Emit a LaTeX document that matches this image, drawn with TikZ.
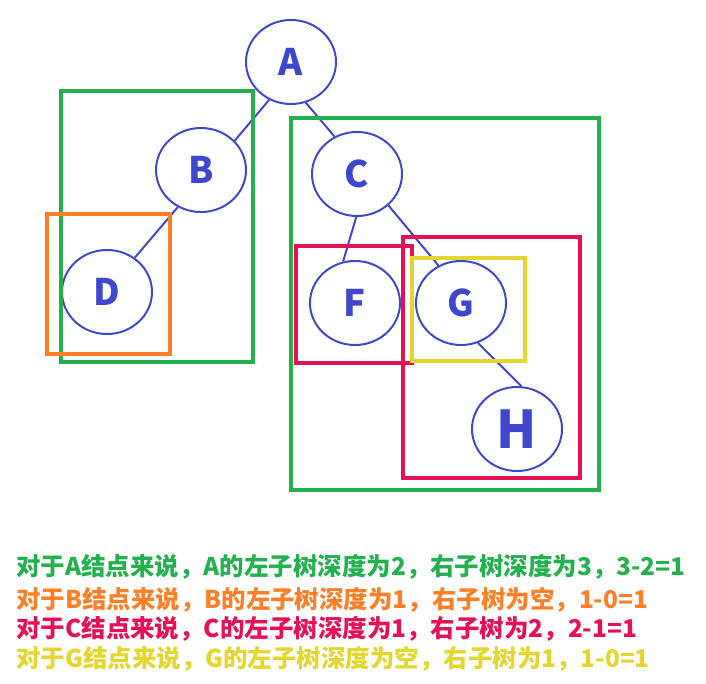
\documentclass[tikz,border=0pt]{standalone}
\usepackage{fontspec}
\newfontfamily\cjk{Noto Sans CJK SC}
\usetikzlibrary{shapes.geometric}
\definecolor{treeblue}{RGB}{63,72,204}
\definecolor{boxgreen}{RGB}{34,177,76}
\definecolor{boxorange}{RGB}{255,127,39}
\definecolor{boxred}{RGB}{230,16,84}
\definecolor{boxyellow}{RGB}{228,214,46}
\begin{document}
\begin{tikzpicture}[
  x=0.025cm,y=-0.025cm,
  tnode/.style={draw=treeblue,ellipse,line width=1.4pt,minimum width=2.25cm,minimum height=2.1cm,inner sep=0pt,text=treeblue,font=\cjk\bfseries\fontsize{26}{26}\selectfont},
  edge/.style={treeblue,line width=1.4pt},
  subtree/.style={line width=2.2pt},
  note/.style={anchor=west,inner sep=0pt,font=\cjk\bfseries\fontsize{17.4}{20}\selectfont}
]
\useasboundingbox (0,0) rectangle (706,684);

% binary tree
\node[tnode] (a) at (291,62) {A};
\node[tnode] (b) at (201,170) {B};
\node[tnode] (c) at (357,174) {C};
\node[tnode] (d) at (107,292) {D};
\node[tnode] (f) at (355,303) {F};
\node[tnode] (g) at (461,303) {G};
\node[tnode,font=\cjk\bfseries\fontsize{37}{37}\selectfont] (h) at (517,429) {H};
\foreach \u/\su/\v/\sv in {a/240/b/41,a/290/c/121,b/238/d/51,c/269/f/106,c/315/g/121,g/293/h/84}{
  \draw[edge] (\u.\su) -- (\v.\sv);
}

% subtree frames
\draw[subtree,boxgreen] (61,91) rectangle (253,362);
\draw[subtree,boxgreen] (291,118) rectangle (599,490);
\draw[subtree,boxorange] (47,214) rectangle (170,354);
\draw[subtree,boxred] (296,246) rectangle (412,363);
\draw[subtree,boxred] (403,237) rectangle (580,478);
\draw[subtree,boxyellow] (412,258) rectangle (525,361);

% balance factors
\node[note,text=boxgreen] (na) at (16,567) {对于A结点来说，A的左子树深度为2，右子树深度为3，3-2=1};
\node[note,text=boxorange] (nb) at (16,600) {对于B结点来说，B的左子树深度为1，右子树为空，1-0=1};
\node[note,text=boxred] (nc) at (16,629) {对于C结点来说，C的左子树深度为1，右子树为2，2-1=1};
\node[note,text=boxyellow] (ng) at (16,659) {对于G结点来说，G的左子树深度为空，右子树为1，1-0=1};
\end{tikzpicture}
\end{document}
